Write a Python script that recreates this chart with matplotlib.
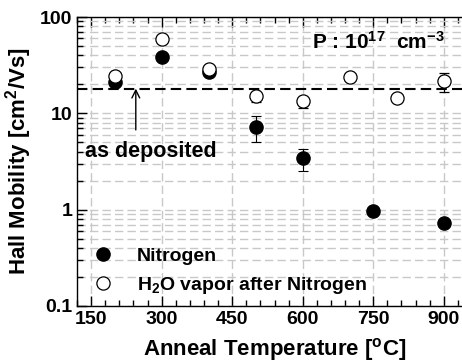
import matplotlib
matplotlib.use('Agg')
import matplotlib.pyplot as plt
from matplotlib.lines import Line2D
from matplotlib.ticker import FixedLocator, LogLocator, NullFormatter, FuncFormatter

plt.rcParams['font.family'] = ['Liberation Sans', 'DejaVu Sans']
plt.rcParams['font.weight'] = 'bold'
plt.rcParams['mathtext.fontset'] = 'custom'
plt.rcParams['mathtext.rm'] = 'Liberation Sans:bold'
plt.rcParams['mathtext.bf'] = 'Liberation Sans:bold'
plt.rcParams['mathtext.default'] = 'bf'

# Nitrogen anneal
n2_temp = [200, 300, 400, 500, 600, 750, 900]
n2_mob = [21.2, 38.5, 27.0, 7.2, 3.4, 0.98, 0.73]
n2_lo = [21.2, 38.5, 27.0, 5.1, 2.5, 0.98, 0.73]
n2_hi = [21.2, 38.5, 27.0, 9.3, 4.3, 0.98, 0.73]

# H2O vapor after nitrogen
h2o_temp = [200, 300, 400, 500, 600, 700, 800, 900]
h2o_mob = [24.5, 59.0, 29.0, 15.0, 13.3, 24.0, 14.3, 21.7]
h2o_lo = [24.5, 59.0, 29.0, 13.0, 11.3, 24.0, 14.3, 16.6]
h2o_hi = [24.5, 59.0, 29.0, 15.0, 13.3, 24.0, 14.3, 26.5]

as_deposited = 17.8
xticks = [150, 300, 450, 600, 750, 900]

fig = plt.figure(figsize=(4.62, 3.62), dpi=100)
ax = fig.add_axes([0.1667, 0.1547, 0.855, 0.7983])

ax.set_yscale('log')
ax.set_xlim(120, 960)
ax.set_ylim(0.1, 100)

# grid: vertical only at majors, horizontal at majors and minors
ax.xaxis.set_major_locator(FixedLocator(xticks))
ax.xaxis.set_minor_locator(FixedLocator(range(120, 961, 30)))
ax.yaxis.set_major_locator(LogLocator(base=10, numticks=10))
ax.yaxis.set_minor_locator(LogLocator(base=10, subs=range(2, 10), numticks=10))
ax.yaxis.set_minor_formatter(NullFormatter())
ax.yaxis.set_major_formatter(FuncFormatter(lambda v, p: f'{v:g}'))
ax.grid(True, axis='x', which='major', color='#c8c8c8', linestyle=(0, (6, 3)), linewidth=1)
ax.grid(True, axis='y', which='both', color='#c8c8c8', linestyle=(0, (6, 3)), linewidth=1)
ax.set_axisbelow(True)

ax.axhline(as_deposited, color='black', linestyle=(0, (5, 2.5)), linewidth=1.5, zorder=2)

def errs(v, lo, hi):
    return [[a - b for a, b in zip(v, lo)], [c - a for a, c in zip(v, hi)]]

ax.errorbar(n2_temp, n2_mob, yerr=errs(n2_mob, n2_lo, n2_hi), fmt='o', color='black',
            markersize=9.5, ecolor='black', elinewidth=0.8, capsize=3.5, capthick=0.8, zorder=3)
ax.errorbar(h2o_temp, h2o_mob, yerr=errs(h2o_mob, h2o_lo, h2o_hi), fmt='o', mfc='white',
            mec='black', mew=0.9, markersize=9.5, ecolor='black', elinewidth=0.8,
            capsize=3.5, capthick=0.8, zorder=4)

ax.annotate('', xy=(245, 19.3), xytext=(245, 6.3),
            arrowprops=dict(arrowstyle='->', color='black', lw=1, mutation_scale=14))
ax.text(137, 4.0, 'as deposited', fontsize=15.5, fontweight='bold', va='center', ha='left')
ax.text(620, 55, 'P : 10$^{17}$  cm$^{-3}$', fontsize=15, fontweight='bold', va='center', ha='left')

ax.tick_params(which='both', direction='in', top=True, right=False, labelsize=14, width=1)
ax.tick_params(which='major', length=7)
ax.tick_params(which='minor', length=4)
for lab in ax.get_xticklabels() + ax.get_yticklabels():
    lab.set_fontweight('bold')
for s in ax.spines.values():
    s.set_linewidth(1)
ax.spines['right'].set_visible(False)

ax.set_xlabel('Anneal Temperature [$\\mathbf{^o}$C]', fontsize=16, fontweight='bold', labelpad=6)
ax.set_ylabel('Hall Mobility [cm$^2$/Vs]', fontsize=16, fontweight='bold', labelpad=4)

handles = [Line2D([], [], ls='none', marker='o', color='black', markersize=9.5),
           Line2D([], [], ls='none', marker='o', mfc='white', mec='black', mew=0.9, markersize=9.5)]
ax.legend(handles, ['Nitrogen', 'H$_2$O vapor after Nitrogen'], loc='lower left',
          bbox_to_anchor=(0.041, 0.035), frameon=False, fontsize=14, borderpad=0,
          borderaxespad=0, handlelength=1.0, handletextpad=1.25, labelspacing=0.5)

fig.savefig('out.png', dpi=100)
